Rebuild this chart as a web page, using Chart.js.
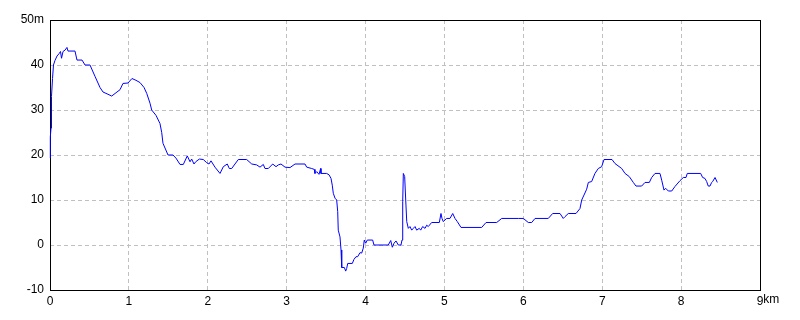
<!DOCTYPE html>
<html lang="en">
  <head>
    <meta charset="UTF-8" />
    <title>Elevation profile</title>
    <script src="https://cdn.jsdelivr.net/npm/chart.js"></script>
    <style>
      body { margin: 0; background: #fff; }
    </style>
  </head>
  <body>
    <canvas id="profileChart" width="800" height="320"></canvas>
    <script>
      // distance along the route (km) and elevation (m)
      const distKm = [
        0.000, 0.004, 0.013, 0.019, 0.032, 0.044, 0.063, 0.089, 0.114, 0.133,
        0.146, 0.165, 0.190, 0.215, 0.228, 0.317, 0.342, 0.406, 0.444, 0.507,
        0.570, 0.634, 0.672, 0.735, 0.782, 0.849, 0.887, 0.925, 0.989, 1.039,
        1.090, 1.141, 1.192, 1.226, 1.268, 1.289, 1.344, 1.394, 1.416, 1.432,
        1.496, 1.559, 1.597, 1.648, 1.690, 1.740, 1.775, 1.796, 1.825, 1.847,
        1.893, 1.943, 1.986, 2.015, 2.041, 2.091, 2.155, 2.197, 2.247, 2.273,
        2.303, 2.387, 2.493, 2.557, 2.620, 2.662, 2.704, 2.725, 2.767, 2.823,
        2.865, 2.894, 2.928, 2.979, 3.042, 3.106, 3.232, 3.254, 3.317, 3.350,
        3.359, 3.381, 3.410, 3.431, 3.435, 3.507, 3.537, 3.562, 3.578, 3.591,
        3.613, 3.634, 3.647, 3.654, 3.676, 3.689, 3.698, 3.731, 3.748, 3.761,
        3.774, 3.832, 3.853, 3.879, 3.900, 3.930, 3.951, 3.971, 3.984, 4.002,
        4.022, 4.090, 4.107, 4.288, 4.319, 4.339, 4.361, 4.386, 4.415, 4.449,
        4.462, 4.471, 4.479, 4.496, 4.509, 4.522, 4.542, 4.563, 4.585, 4.605,
        4.627, 4.648, 4.681, 4.699, 4.724, 4.754, 4.775, 4.795, 4.838, 4.935,
        4.956, 4.969, 4.985, 5.028, 5.070, 5.105, 5.134, 5.163, 5.210, 5.472,
        5.527, 5.662, 5.726, 5.936, 6.000, 6.063, 6.106, 6.148, 6.316, 6.372,
        6.465, 6.506, 6.528, 6.570, 6.668, 6.718, 6.740, 6.769, 6.803, 6.824,
        6.866, 6.908, 6.950, 6.993, 7.023, 7.124, 7.162, 7.247, 7.289, 7.343,
        7.394, 7.428, 7.500, 7.542, 7.597, 7.627, 7.669, 7.732, 7.754, 7.783,
        7.804, 7.838, 7.881, 7.922, 7.986, 8.028, 8.062, 8.078, 8.248, 8.273,
        8.302, 8.324, 8.344, 8.366, 8.387, 8.400, 8.430, 8.459
      ];
      const elevM = [
        19.3, 24, 26, 33, 37, 40, 41, 42, 42.5, 43,
        41.5, 43, 43.3, 43.9, 43.1, 43.1, 41.1, 41.1, 40, 40,
        37.5, 35, 34, 33.5, 33.1, 34, 34.5, 35.9, 36, 37,
        36.6, 36.1, 35, 33.7, 31.5, 30, 28.8, 27, 25, 22.6,
        20, 20, 19.3, 17.9, 17.9, 19.8, 18.5, 19.1, 18, 18.5,
        19.1, 19, 18.3, 18, 18.7, 17.3, 15.9, 17.4, 18, 17,
        17, 19, 19, 18, 17.8, 17.3, 17.9, 17, 17, 18,
        17.4, 17.8, 18, 17.3, 17.2, 18, 18, 17.3, 17, 16.8,
        15.9, 16.3, 15.7, 17, 15.9, 15.9, 15.6, 14.8, 13.3, 11.5,
        10.4, 10, 7.4, 3.3, 1.8, -1.1, -5, -5, -5.8, -5.2,
        -4.1, -4.1, -3.2, -2.6, -2.6, -1.7, -1.8, -0.7, 1.1, 0.4,
        1.1, 1.1, 0, 0, 1, -0.5, 0.4, 0.9, 0, 0,
        1.1, 9.6, 15.9, 15.2, 10, 5.2, 3.7, 4.1, 3.3, 3.7,
        4.1, 3.3, 3.7, 3.3, 4.1, 3.7, 4.4, 4.1, 5, 5,
        7, 5.9, 5.2, 5.9, 5.9, 7, 5.9, 5.2, 3.9, 3.9,
        5, 5, 5.9, 5.9, 5.9, 5, 5, 5.9, 5.9, 7,
        7, 5.9, 6.3, 7, 7, 8.1, 10, 11.1, 12.4, 13.9,
        14.1, 15.9, 17, 17.4, 19, 19, 18.1, 17, 15.9, 15.2,
        13.9, 13.1, 13.1, 13.9, 13.9, 15, 15.9, 15.9, 14.4, 12.2,
        12.6, 12, 12, 13, 14.3, 15, 15, 15.9, 15.9, 15,
        14.8, 14.1, 13.1, 13.1, 13.9, 14.1, 15, 13.9
      ];

      const xMin = 0, xMax = 9;   // km
      const yMin = -10, yMax = 50; // m
      const xUnit = "km";
      const yUnit = "m";

      const points = distKm.map((d, i) => ({ x: d, y: elevM[i] }));

      const font = { family: "'Liberation Sans', Arial, sans-serif", size: 12 };

      // frame around the plot (under the line) plus "km" after the last x label
      const framePlugin = {
        id: "frame",
        beforeDatasetsDraw(chart) {
          const { ctx, chartArea: a, scales } = chart;
          ctx.save();
          ctx.strokeStyle = "#000";
          ctx.lineWidth = 1;
          ctx.strokeRect(a.left + 0.5, a.top + 0.5, a.right - a.left, a.bottom - a.top);
          ctx.fillStyle = "#000";
          ctx.font = font.size + "px " + font.family;
          ctx.textBaseline = "top";
          ctx.textAlign = "left";
          const x = scales.x.getPixelForValue(xMax);
          const w = ctx.measureText(String(xMax)).width;
          ctx.fillText(xUnit, x + w / 2, a.bottom + 4);
          ctx.restore();
        },
      };

      new Chart(document.getElementById("profileChart"), {
        type: "scatter",
        data: {
          datasets: [
            {
              data: points,
              showLine: true,
              borderColor: "#0000ff",
              borderWidth: 1,
              pointRadius: 0,
              tension: 0,
              clip: 2,
            },
          ],
        },
        options: {
          responsive: false,
          animation: false,
          layout: { padding: { top: 20, right: 40, left: 0, bottom: 0 } },
          plugins: { legend: { display: false }, tooltip: { enabled: false } },
          scales: {
            x: {
              type: "linear",
              min: xMin,
              max: xMax,
              afterFit: (s) => { s.height = 30; },
              ticks: { stepSize: 1, color: "#000", font, padding: 4, maxRotation: 0 },
              grid: { color: "#c0c0c0", drawTicks: false },
              border: { display: false, dash: [4, 3] },
            },
            y: {
              min: yMin,
              max: yMax,
              afterFit: (s) => { s.width = 50; },
              ticks: {
                stepSize: 10,
                color: "#000",
                font,
                padding: 6,
                callback: (v) => (v === yMax ? v + yUnit : v),
              },
              grid: { color: "#c0c0c0", drawTicks: false },
              border: { display: false, dash: [4, 3] },
            },
          },
        },
        plugins: [framePlugin],
      });
    </script>
  </body>
</html>
